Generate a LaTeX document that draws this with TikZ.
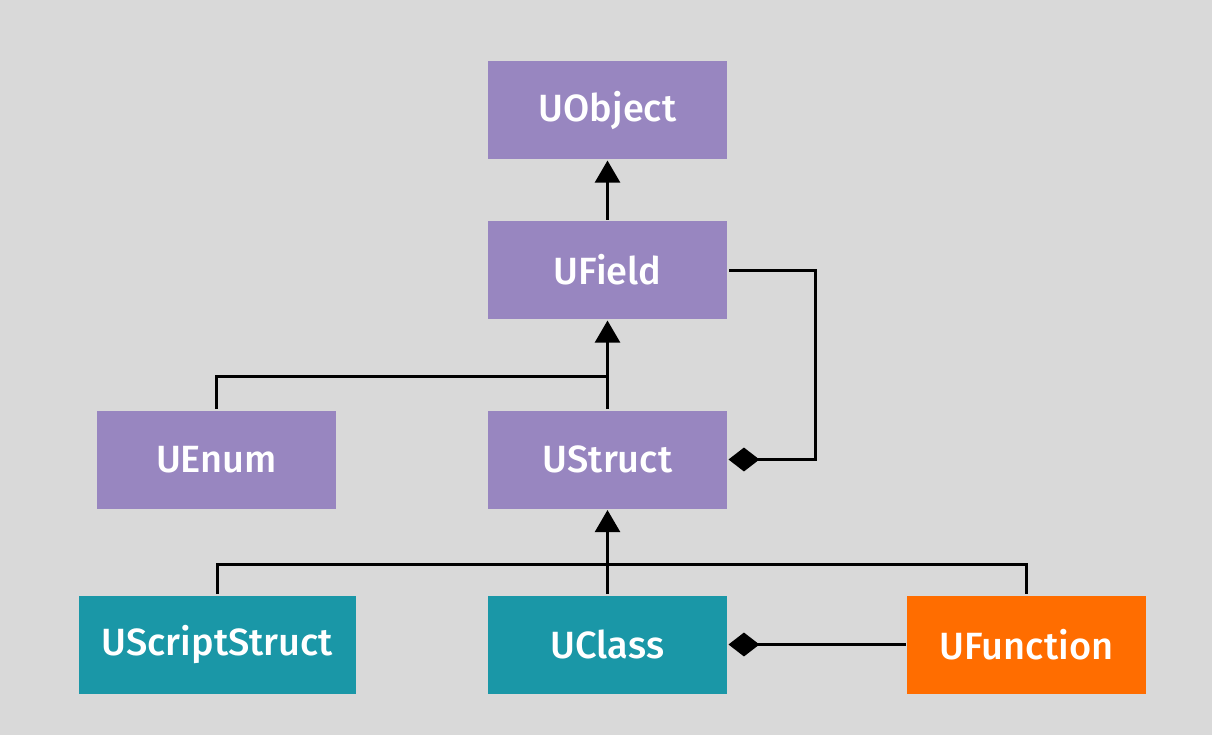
\documentclass[tikz,border=0pt]{standalone}
\usepackage{fontspec}
\setmainfont{Fira Sans}[BoldFont={Fira Sans Medium}]
\usetikzlibrary{arrows.meta,positioning}
\definecolor{bggray}{RGB}{217,217,217}
\definecolor{upurple}{RGB}{152,134,192}
\definecolor{uteal}{RGB}{26,151,167}
\definecolor{uorange}{RGB}{255,109,0}
\begin{document}
\begin{tikzpicture}[>={Triangle[length=6.3pt,width=7.1pt]},line width=0.85pt,line join=miter,
  cls/.style={minimum width=2.39cm,minimum height=0.98cm,inner sep=0pt,text=white,
    font=\fontsize{10.8}{12}\selectfont\bfseries},
  pcls/.style={cls,fill=upurple},
  tcls/.style={cls,fill=uteal},
  ocls/.style={cls,fill=uorange},
  dia/.style={{Diamond[length=8.8pt,width=6.8pt]}-}]
\fill [bggray] (0,0) rectangle (12.12,7.35);
\useasboundingbox (0,0) rectangle (12.12,7.35);
\node [pcls] at (6.075,6.25) (uobject) {UObject};
\node [pcls] at (6.075,4.65) (ufield) {UField};
\node [pcls] at (2.165,2.755) (uenum) {UEnum};
\node [pcls] at (6.075,2.755) (ustruct) {UStruct};
\node [tcls,minimum width=2.77cm] at (2.175,0.905) (uscript) {UScriptStruct};
\node [tcls] at (6.075,0.905) (uclass) {UClass};
\node [ocls] at (10.265,0.905) (ufunction) {UFunction};
\coordinate (j1) at (6.075,3.59);
\coordinate (j2) at (6.075,1.71);
\coordinate (r1) at (8.15,2.755);
\draw [->] (ufield) -- (uobject);
\draw [->] (ustruct) -- (ufield);
\draw (uenum.north) |- (j1);
\draw [dia] (ustruct.east) -- (r1) |- (ufield.east);
\draw [->] (uclass) -- (ustruct);
\draw (uscript.north) |- (j2) -| (ufunction.north);
\draw [dia] (uclass.east) -- (ufunction.west);
\end{tikzpicture}
\end{document}
